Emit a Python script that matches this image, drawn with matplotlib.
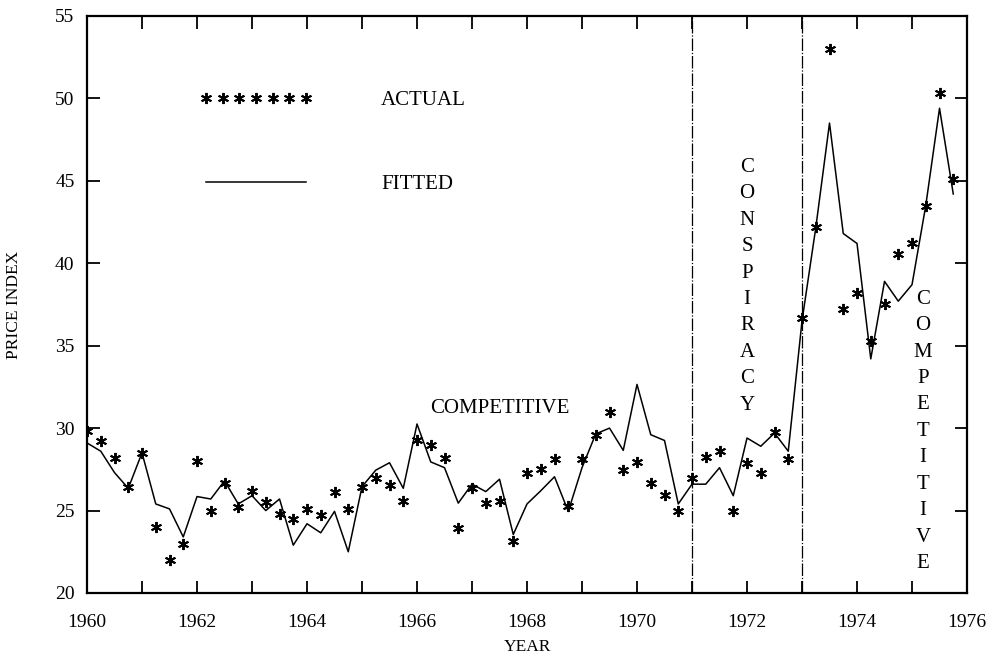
import numpy as np
import matplotlib
matplotlib.use('Agg')
import matplotlib.pyplot as plt
from matplotlib.lines import Line2D
from matplotlib.ticker import MultipleLocator

# Quarterly price index, 1960 Q1 .. 1975 Q4
actual = [29.8, 29.2, 28.2, 26.4,
          28.5, 24.0, 22.0, 23.0,
          28.0, 25.0, 26.65, 25.2,
          26.2, 25.5, 24.8, 24.5,
          25.1, 24.7, 26.1, 25.1,
          26.45, 26.95, 26.55, 25.6,
          29.3, 29.0, 28.2, 23.95,
          26.35, 25.45, 25.6, 23.15,
          27.25, 27.55, 28.15, 25.3,
          28.1, 29.6, 30.95, 27.45,
          27.95, 26.65, 25.95, 25.0,
          27.0, 28.25, 28.6, 25.0,
          27.9, 27.25, 29.75, 28.1,
          36.7, 42.2, 53.0, 37.2,
          38.2, 35.3, 37.55, 40.55,
          41.2, 43.5, 50.3, 45.1]

fitted = [29.1, 28.6, 27.3, 26.35,
          28.5, 25.4, 25.1, 23.4,
          25.85, 25.7, 26.8, 25.4,
          25.9, 25.0, 25.7, 22.9,
          24.2, 23.65, 24.95, 22.5,
          26.45, 27.45, 27.9, 26.35,
          30.25, 27.95, 27.6, 25.45,
          26.6, 26.15, 26.9, 23.55,
          25.4, 26.2, 27.05, 24.95,
          27.6, 29.65, 30.0, 28.65,
          32.65, 29.6, 29.25, 25.4,
          26.6, 26.6, 27.6, 25.9,
          29.4, 28.9, 29.7, 28.6,
          36.5, 42.15, 48.5, 41.8,
          41.2, 34.2, 38.9, 37.7,
          38.7, 43.5, 49.4, 44.2]

start_year = 1960
regime_breaks = [1971, 1973]

quarters = start_year + np.arange(len(actual)) / 4

plt.rcParams['font.family'] = ['Liberation Serif', 'DejaVu Serif']

fig = plt.figure(figsize=(9.91, 6.58), dpi=100)
ax = fig.add_axes([0.0878, 0.0988, 0.888, 0.877])

# asterisk marker
ast = (6, 2, 0)

ax.plot(quarters, fitted, color='black', linewidth=1.1)
ax.plot(quarters, actual, linestyle='none', marker=ast, markersize=8,
        markeredgewidth=1.4, color='black')

for b in regime_breaks:
    ax.axvline(b, color='black', linewidth=0.9, linestyle=(0, (10, 1.5, 1, 1.5)))

ax.set_xlim(1960, 1976)
ax.set_ylim(20, 55)
ax.xaxis.set_major_locator(MultipleLocator(2))
ax.xaxis.set_minor_locator(MultipleLocator(1))
ax.yaxis.set_major_locator(MultipleLocator(5))
ax.tick_params(which='both', direction='in', top=True, right=True,
               length=9, width=1.3, labelsize=14, pad=9)
ax.tick_params(axis='x', pad=15)
for s in ax.spines.values():
    s.set_linewidth(1.6)

ax.set_xlabel('YEAR', fontsize=12.5, labelpad=6)
ax.set_ylabel('PRICE INDEX', fontsize=12.5, labelpad=24)

# regime labels
ax.text(1967.5, 31.2, 'COMPETITIVE', fontsize=15, ha='center', va='center')
ax.text(1972.0, 38.6, '\n'.join('CONSPIRACY'), fontsize=15, ha='center',
        va='center', multialignment='center', linespacing=1.53)
ax.text(1975.2, 29.8, '\n'.join('COMPETITIVE'), fontsize=15, ha='center',
        va='center', multialignment='center', linespacing=1.53)

# legend
handles = [Line2D([], [], linestyle='none', marker=ast, markersize=8,
                  markeredgewidth=1.4, color='black'),
           Line2D([], [], color='black', linewidth=1.1)]
ax.legend(handles, ['ACTUAL', 'FITTED'], numpoints=7, frameon=False,
          fontsize=15, handlelength=5.4, handletextpad=3.3, labelspacing=3.1,
          loc='upper left', bbox_to_anchor=(0.128, 0.871), borderpad=0,
          borderaxespad=0)

fig.savefig('out.png', dpi=100)
